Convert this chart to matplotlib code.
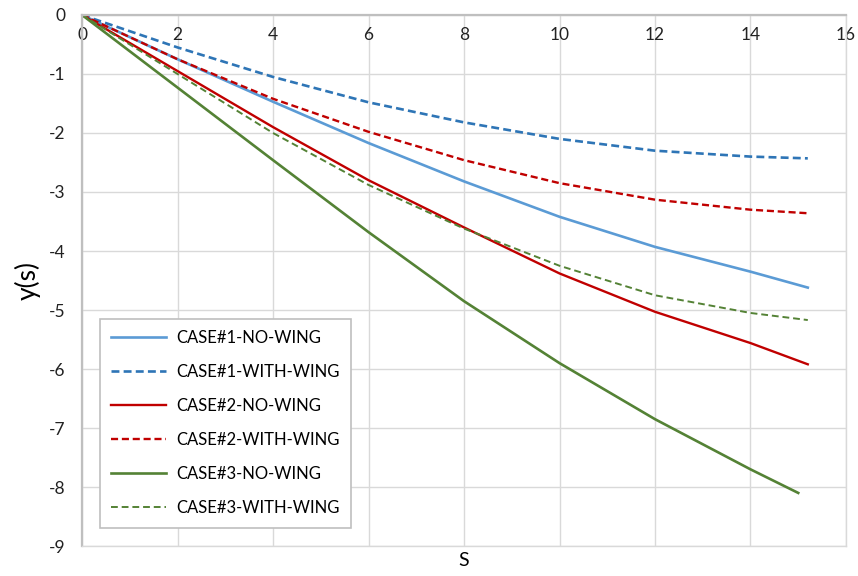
import matplotlib.pyplot as plt

s = [0, 2, 4, 6, 8, 10, 12, 14, 15.2]
s3 = [0, 2, 4, 6, 8, 10, 12, 14, 15.0]

case1_no = [0, -0.75, -1.47, -2.17, -2.82, -3.42, -3.93, -4.35, -4.62]
case1_with = [0, -0.55, -1.05, -1.48, -1.82, -2.10, -2.30, -2.40, -2.43]
case2_no = [0, -0.95, -1.90, -2.80, -3.60, -4.38, -5.03, -5.56, -5.92]
case2_with = [0, -0.75, -1.42, -1.98, -2.46, -2.85, -3.13, -3.30, -3.36]
case3_no = [0, -1.23, -2.46, -3.68, -4.85, -5.90, -6.85, -7.70, -8.10]
case3_with = [0, -1.00, -2.00, -2.88, -3.62, -4.25, -4.75, -5.05, -5.17]

plt.rcParams['font.family'] = ['Lato', 'DejaVu Sans']
plt.rcParams['axes.unicode_minus'] = False

fig = plt.figure(figsize=(8.58, 5.76), dpi=100)
ax = fig.add_axes([0.0956, 0.052, 0.8904, 0.922])

ax.plot(s, case1_no, color='#5B9BD5', lw=1.9, label='CASE#1-NO-WING')
ax.plot(s, case1_with, color='#2E75B6', lw=1.9, ls=(0, (3, 1.6)), label='CASE#1-WITH-WING')
ax.plot(s, case2_no, color='#C00000', lw=1.7, label='CASE#2-NO-WING')
ax.plot(s, case2_with, color='#C00000', lw=1.7, ls=(0, (3, 1.6)), label='CASE#2-WITH-WING')
ax.plot(s3, case3_no, color='#548235', lw=1.9, label='CASE#3-NO-WING')
ax.plot(s, case3_with, color='#548235', lw=1.4, ls=(0, (3.5, 2)), label='CASE#3-WITH-WING')

ax.set_xlim(0, 16)
ax.set_ylim(-9, 0)
ax.set_xticks(range(0, 17, 2))
ax.set_yticks(range(-9, 1))

ax.grid(True, color='#D9D9D9', lw=1)
ax.set_axisbelow(True)
for side in ['left', 'top']:
    ax.spines[side].set_color('#BFBFBF')
    ax.spines[side].set_linewidth(1.6)
for side in ['right', 'bottom']:
    ax.spines[side].set_color('#D9D9D9')
    ax.spines[side].set_linewidth(1)

ax.tick_params(axis='x', top=True, labeltop=True, bottom=False, labelbottom=False,
               length=0, pad=-20, labelsize=12.5, labelcolor='#222222')
ax.tick_params(axis='y', length=0, pad=12, labelsize=12.5, labelcolor='#222222')

ax.set_xlabel('S', fontsize=14, labelpad=4)
ax.set_ylabel('y(s)', fontsize=19, labelpad=6)

leg = ax.legend(loc='lower left', bbox_to_anchor=(0.023, 0.034), fontsize=12,
                handlelength=3.3, labelspacing=1.08, borderpad=0.7,
                handletextpad=0.6, borderaxespad=0, fancybox=False, framealpha=1)
leg.get_frame().set_edgecolor('#BFBFBF')
leg.get_frame().set_linewidth(1.2)

fig.savefig('out.png', dpi=100)
